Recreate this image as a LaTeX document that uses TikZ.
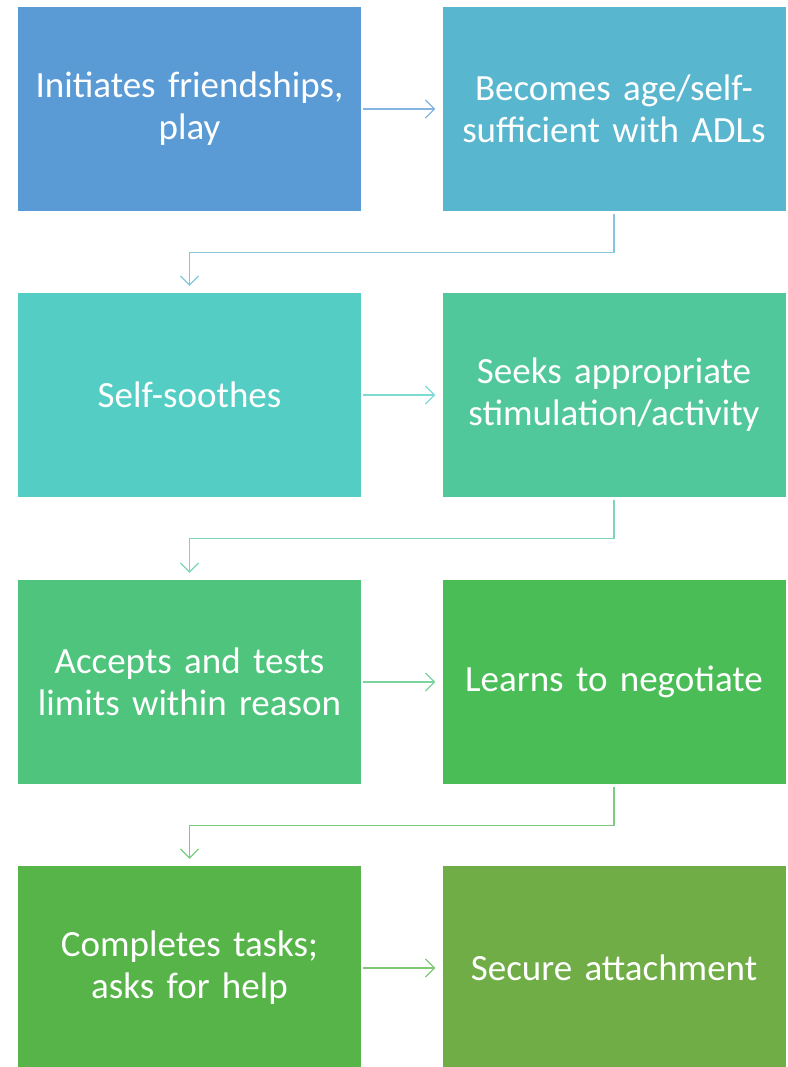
\documentclass[tikz,border=0pt]{standalone}
\usepackage{fontspec}
\setmainfont{Carlito}
\usetikzlibrary{arrows.meta}

\definecolor{cA}{HTML}{5B9BD5}
\definecolor{cB}{HTML}{58B6CF}
\definecolor{cC}{HTML}{54CEC4}
\definecolor{cD}{HTML}{51C79C}
\definecolor{cE}{HTML}{4FC47C}
\definecolor{cF}{HTML}{4BBD57}
\definecolor{cG}{HTML}{57B449}
\definecolor{cH}{HTML}{70AD47}

\begin{document}
\begin{tikzpicture}[x=1pt, y=-1pt,
        stagebox/.style={fill=#1, minimum width=343pt, minimum height=204pt,
            inner sep=0pt, text=white, text width=340pt, align=center,
            font=\fontsize{37}{42}\selectfont},
        link/.style={draw=#1!75!white, line width=1.2pt,
            -{Straight Barb[length=9pt, width=18pt, line width=1.2pt]}}
    ]
            % page
            \useasboundingbox (0,0) rectangle (787,1067);

            % boxes
            \node[stagebox=cA] (friends) at (189.5, 109) {Initiates friendships,\\play};
            \node[stagebox=cB] (adls) at (614, 109) {Becomes age/self-\\sufficient with ADLs};
            \node[stagebox=cC] (soothe) at (189.5, 395) {Self-soothes};
            \node[stagebox=cD] (stim) at (614, 395) {Seeks appropriate\\stimulation/activity};
            \node[stagebox=cE] (limits) at (189.5, 682) {Accepts and tests\\limits within reason};
            \node[stagebox=cF] (negot) at (614, 682) {Learns to negotiate};
            \node[stagebox=cG] (tasks) at (189.5, 968) {Completes tasks;\\asks for help};
            \node[stagebox=cH] (secure) at (614, 968) {Secure attachment};

            % arrows across
            \draw[link=cA] ([xshift=2pt]friends.east) -- ([xshift=-7pt]adls.west);
            \draw[link=cC] ([xshift=2pt]soothe.east) -- ([xshift=-7pt]stim.west);
            \draw[link=cE] ([xshift=2pt]limits.east) -- ([xshift=-7pt]negot.west);
            \draw[link=cG] ([xshift=2pt]tasks.east) -- ([xshift=-7pt]secure.west);

            % arrows down
            \draw[link=cB] ([yshift=-3pt]adls.south) -- ++(0, 38) -| ([yshift=7pt]soothe.north);
            \draw[link=cD] ([yshift=-3pt]stim.south) -- ++(0, 38) -| ([yshift=7pt]limits.north);
            \draw[link=cF] ([yshift=-3pt]negot.south) -- ++(0, 38) -| ([yshift=7pt]tasks.north);

        \end{tikzpicture}
\end{document}
